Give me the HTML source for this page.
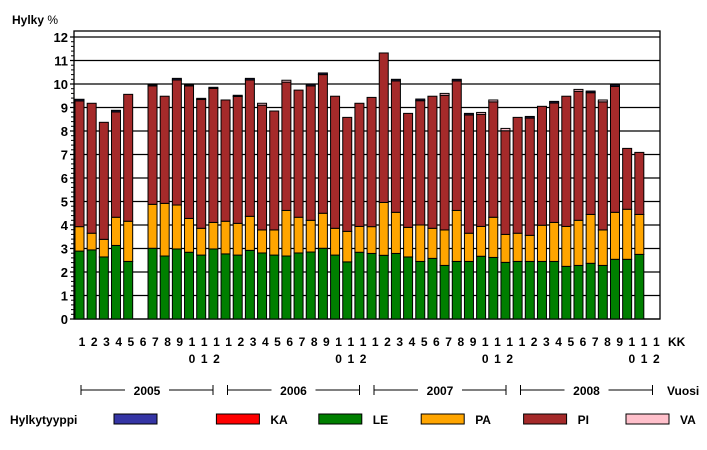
<!DOCTYPE html>
<html><head><meta charset="utf-8"><style>
body{margin:0;background:#fff}
svg text{font-family:"Liberation Sans",Arial,sans-serif;font-weight:bold;fill:#000}
</style></head><body>
<svg id="c" width="707" height="445" viewBox="0 0 707 445" xmlns="http://www.w3.org/2000/svg">
<text x="12" y="24" font-size="12">Hylky  <tspan font-weight="normal">%</tspan></text>
<g id="grid"></g><g id="bars"></g><g id="axis"></g>
</svg>
<script>
const years=["2005","2006","2007","2008"];
const totals=[9.35,9.18,8.37,8.88,9.56,null,9.97,9.48,10.24,9.97,9.39,9.86,
9.32,9.52,10.24,9.18,8.85,10.16,9.74,9.99,10.47,9.48,8.58,9.18,
9.43,11.32,10.20,8.75,9.36,9.48,9.60,10.20,8.75,8.79,9.32,8.11,
8.58,8.62,9.05,9.26,9.48,9.77,9.70,9.32,9.97,7.26,7.09,null];
const leTop=[2.89,2.94,2.64,3.13,2.45,null,3.01,2.68,2.98,2.84,2.72,2.98,
2.77,2.72,2.92,2.81,2.72,2.68,2.81,2.85,3.01,2.72,2.43,2.84,
2.79,2.71,2.79,2.64,2.45,2.58,2.28,2.45,2.45,2.67,2.62,2.41,
2.45,2.45,2.45,2.45,2.24,2.28,2.37,2.28,2.54,2.54,2.75,null];
const paTop=[3.93,3.65,3.39,4.33,4.16,null,4.88,4.92,4.85,4.28,3.86,4.11,
4.16,4.07,4.37,3.79,3.79,4.62,4.33,4.20,4.50,3.86,3.73,3.94,
3.93,4.96,4.54,3.90,4.00,3.86,3.79,4.62,3.65,3.94,4.33,3.60,
3.65,3.56,3.99,4.11,3.94,4.20,4.45,3.79,4.54,4.67,4.45,null];
const navyTop=[0.07,0,0,0.07,0,0,0.05,0,0.07,0.05,0.05,0.05,0,0.05,0.07,0,0,0,0,0.07,0.07,0,0,0,
0,0,0.07,0,0.07,0,0,0.07,0.07,0,0,0,0,0.07,0,0.07,0,0,0.07,0,0.07,0,0,0];
const vaTop=[0,0,0,0,0,0,0,0,0,0,0,0,0,0,0,0.08,0,0.08,0,0,0,0,0,0,
0,0,0,0,0,0,0.08,0,0,0.08,0.08,0.1,0,0,0,0,0,0.08,0,0.08,0,0,0,0];
const yTicks=[0,1,2,3,4,5,6,7,8,9,10,11,12];
const monthLabels=["1","2","3","4","5","6","7","8","9","10","11","12"];
const NS="http://www.w3.org/2000/svg";
const X0=74,X1=660,Y0=319,PU=23.5,PITCH=12.17,BW=9;
const yS=v=>Y0-v*PU;
const xS=i=>75+i*PITCH;
function mk(tag,attrs,parent){const e=document.createElementNS(NS,tag);for(const k in attrs)e.setAttribute(k,attrs[k]);parent.appendChild(e);return e;}
const grid=document.getElementById('grid'),bars=document.getElementById('bars'),axis=document.getElementById('axis');
// frame
let fr=mk('rect',{x:X0,y:31,width:X1-X0,height:Y0-31,fill:'none',stroke:'#000','stroke-width':1.3},grid);


yTicks.forEach(v=>{
  const y=yS(v);
  const l=mk('line',{x1:X0-4,x2:X1,y1:y,y2:y,stroke:'#000','stroke-width':1.2},grid);
  
  
  const t=mk('text',{x:68,y:y+5,'text-anchor':'end','font-size':13},axis);
  t.textContent=v;
  
  
  if(v<12)for(let k=1;k<5;k++){const yy=yS(v+k*0.2);const m=mk('line',{x1:X0-3,x2:X0,y1:yy,y2:yy,stroke:'#000'},axis);
    
    }
});
function seg(i,a,b,col,name){if(b-a<=0)return;
  const r=mk('rect',{x:xS(i),y:yS(b),width:BW,height:(b-a)*PU,fill:col,stroke:'#000','stroke-width':1},bars);
  
  }
totals.forEach((t,i)=>{
  if(t==null)return;
  const top=t-navyTop[i]-vaTop[i];
  seg(i,0,leTop[i],'#007f00','bar-le');
  seg(i,leTop[i],paTop[i],'#ffa500','bar-pa');
  seg(i,paTop[i],top,'#a52a2a','bar-pi');
  seg(i,top,top+vaTop[i],'#ffc0cb','bar-va');
  seg(i,top+vaTop[i],t,'#1a1a40','bar-other');
});
// month labels
for(let i=0;i<48;i++){
  const lab=monthLabels[i%12];const x=82+i*12.22;
  const t=mk('text',{x:x,y:346,'text-anchor':'middle','font-size':12},axis);
  t.textContent=lab[0];
  
  
  if(lab.length>1){const t2=mk('text',{x:x,y:363,'text-anchor':'middle','font-size':12},axis);
    t2.textContent=lab[1];
    
    }
}
let kk=mk('text',{x:668,y:346,'font-size':12},axis);kk.textContent='KK';


years.forEach((yr,j)=>{
  const a=81+j*146.5,b=a+132,c=(a+b)/2,y=390;
  const g=mk('g',{},axis);
  
  
  mk('line',{x1:a,x2:c-22,y1:y,y2:y,stroke:'#000'},g);
  mk('line',{x1:c+22,x2:b,y1:y,y2:y,stroke:'#000'},g);
  mk('line',{x1:a,x2:a,y1:y-5,y2:y+5,stroke:'#000'},g);
  mk('line',{x1:b,x2:b,y1:y-5,y2:y+5,stroke:'#000'},g);
  const t=mk('text',{x:c,y:y+5,'text-anchor':'middle','font-size':12},g);t.textContent=yr;
});
let vu=mk('text',{x:667,y:395,'font-size':12},axis);vu.textContent='Vuosi';


let lt=mk('text',{x:10,y:424,'font-size':12},axis);lt.textContent='Hylkytyyppi';


const legNames=["","KA","LE","PA","PI","VA"];
const legCols=["#3535a5","#ff0000","#007f00","#ffa500","#a52a2a","#ffc0cb"];
legNames.forEach((n,k)=>{
  const x=114+k*102.4;
  const g=mk('g',{},axis);
  
  
  mk('rect',{x:x,y:414,width:43,height:10,fill:legCols[k],stroke:'#000'},g);
  const t=mk('text',{x:x+54,y:424,'font-size':12},g);t.textContent=n;
});
</script>
</body></html>
